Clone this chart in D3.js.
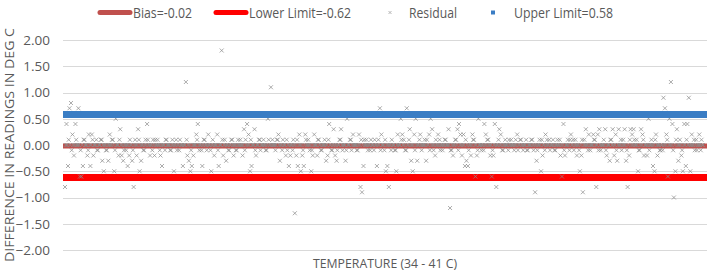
<!DOCTYPE html>
<html>
<head>
<meta charset="utf-8">
<script src="https://cdn.jsdelivr.net/npm/d3@7"></script>
<style>
  body { margin: 0; background: #fff; }
  text { font-family: "Open Sans", "Liberation Sans", sans-serif; fill: #595959; }
</style>
</head>
<body>
<div id="chart"></div>
<script>
//Dimensions
const width = 709;
const height = 271;
const margin = {top: 40, right: 2, bottom: 21, left: 63};

//Data: residuals, in tenths of a degree, in reading order
const residualTenths = [
  -8, 4, -4, 7, 8, 2, -2, 4, 0, 7, -6, -6, -4, 1, 0, -2, 2, -4, 2, -2,
  0, 1, -1, 0, 1, -3, -5, 0, -1, -3, 2, 0, 1, -5, 5, 0, -2, 3, -2, -3,
  0, -1, -4, -2, 0, -3, -8, 1, -2, 3, -5, -3, 0, -1, 1, 4, 0, -2, 0, 1,
  -2, 0, 1, 0, -2, -4, 0, -1, 1, 0, 0, -1, 1, -5, 0, -1, 0, 1, 0, -4,
  0, 12, -2, -3, -5, -4, -2, 0, 2, 4, -1, 0, -4, 1, 0, -1, 2, 0, -5, 1,
  -2, 0, 2, -4, 0, 18, -2, 1, -3, 0, -1, 0, 1, -2, 0, -1, 1, 0, 0, -2,
  3, 1, 4, 2, -5, -4, 0, 3, -2, 0, 1, -1, 0, 1, 0, -1, 5, 0, 11, 1,
  0, -1, 1, 2, -3, 0, 1, 0, -2, -1, -4, -2, 0, 1, -13, -2, -4, 2, -5, -2,
  -4, 2, 0, 1, -1, -5, -2, 2, 0, -2, 1, 0, -1, 0, 1, -3, -2, 4, 0, -1,
  3, -2, -3, 0, 1, 3, -1, 0, -3, 5, 0, 1, -1, 2, 0, 0, -1, 2, -8, -9,
  -4, 0, 1, -1, 0, 1, 0, -1, 0, -4, 1, 7, 2, 0, -1, -5, -4, -8, 0, 1,
  0, -1, -5, 2, 0, 5, 2, 1, -1, 7, 0, 3, -3, -5, 2, 5, -3, 0, 2, -1,
  0, 1, -3, 0, 2, 5, 3, -1, -2, 0, 2, 1, 0, -1, 0, 1, 0, 3, -12, -1,
  -2, 0, 1, 3, 4, 2, -2, 2, -4, -3, -4, 0, -2, 2, 1, -6, -2, 5, 0, -1,
  0, 4, 2, 1, 0, -2, -6, -2, 4, -8, 0, 3, 2, -1, 0, 1, 0, -1, 0, 1,
  0, -1, 1, 2, 0, 1, 0, -1, 0, 1, -1, 0, 0, 1, -1, -9, -3, 0, 1, -5,
  -2, 0, 2, 1, 0, -1, 0, 1, -1, 0, 1, 0, -2, -6, 4, -2, 0, 1, -1, 2,
  0, -1, 1, -2, 0, -5, -2, -9, 1, 3, 0, 2, -1, 0, 2, 1, -8, 2, 3, -1,
  0, 1, 3, -2, 0, -3, 1, 3, -2, 2, -3, 3, 0, -1, 1, 3, -3, -8, -2, 3,
  2, 3, 0, 1, -5, -1, 3, 2, -2, 0, -2, 5, 0, 1, -4, -5, 2, -2, 0, -1,
  0, 9, 7, 2, -6, 5, 12, 4, -10, -5, 3, -3, 1, -2, -5, 4, -4, 4, 9, -5,
  2, 0, -1, 1, 0, 2, -1, 0
];

//Second reading in each slot: the dense band of near-zero residuals, in tenths
const nearZeroTenths = [
  0, 0, 1, 0, -1, 0, 0, 1, 0, 0, -1, 0, 1, 0, 0, -1, 0, 0, 1, 0,
  0, -1, 0, 0, 1, 0, 0, -1, 0, 0, 0, 1, 0, -1, 0, 0, 1, 0, 0, -1,
  0, 0, 0, 1, 0, -1, 0, 0, 0, 1, 0, 0, -1, 0, 0, 1, 0, 0, -1, 0,
  1, 0, 0, -1, 0, 0, 0, 1, 0, 0, -1, 0, 0, 0, 1, 0, -1, 0, 0, 0,
  0, 1, 0, 0, -1, 0, 0, 0, 1, 0, 0, -1, 0, 1, 0, 0, 0, -1, 0, 0,
  0, 0, -1, 0, 0, 1, 0, 0, 0, -1, 0, 1, 0, 0, -1, 0, 0, 1, 0, 0,
  -1, 0, 0, 0, 1, 0, 0, -1, 0, 0, 1, 0, 0, 0, -1, 0, 1, 0, 0, 0,
  0, 0, 1, 0, 0, -1, 0, 0, 1, 0, 0, 0, -1, 0, 0, 1, 0, 0, 0, -1,
  0, 1, 0, 0, 0, -1, 0, 0, 0, 1, 0, -1, 0, 0, 0, 0, 1, 0, -1, 0,
  0, 0, -1, 0, 1, 0, 0, 0, -1, 0, 0, 1, 0, 0, 0, -1, 0, 0, 1, 0,
  1, 0, 0, 0, -1, 0, 0, 1, 0, 0, 0, -1, 0, 0, 1, 0, 0, 0, -1, 0,
  0, -1, 0, 0, 0, 1, 0, 0, -1, 0, 1, 0, 0, 0, -1, 0, 0, 1, 0, 0,
  0, 0, 1, 0, -1, 0, 0, 0, 1, 0, 0, -1, 0, 0, 1, 0, 0, 0, -1, 0,
  0, 1, 0, -1, 0, 0, 0, 0, 1, 0, -1, 0, 0, 1, 0, 0, -1, 0, 0, 0,
  -1, 0, 0, 1, 0, 0, -1, 0, 0, 0, 1, 0, 0, -1, 0, 0, 0, 1, 0, 0,
  0, 0, 0, -1, 0, 1, 0, 0, 0, -1, 0, 0, 1, 0, 0, 0, -1, 0, 0, 1,
  0, -1, 0, 0, 1, 0, 0, 0, -1, 0, 0, 1, 0, 0, -1, 0, 0, 0, 1, 0,
  1, 0, 0, 0, -1, 0, 1, 0, 0, 0, -1, 0, 0, 0, 1, 0, 0, -1, 0, 0,
  0, 0, -1, 0, 0, 1, 0, 0, 0, -1, 0, 0, 1, 0, 0, 0, -1, 0, 1, 0,
  0, 1, 0, 0, -1, 0, 0, 1, 0, 0, 0, -1, 0, 0, 0, 1, 0, 0, -1, 0,
  -1, 0, 0, 1, 0, 0, 0, -1, 0, 1, 0, 0, 0, -1, 0, 0, 1, 0, 0, 0,
  0, 1, 0, -1, 0, 0, 1, 0
];

//Reference lines
const bias = -0.02;
const lowerLimit = -0.62;
const upperLimit = 0.58;

//Axis ticks
const yTicks = [-2, -1.5, -1, -0.5, 0, 0.5, 1, 1.5, 2];

//Interleave both readings into one residual series
const residuals = [];
residualTenths.forEach((d, i) => {
    residuals.push(d / 10);
    if (i < nearZeroTenths.length) residuals.push(nearZeroTenths[i] / 10);
});

//Create the svg element
const svg = d3.select("#chart").append("svg").attr("width", width).attr("height", height);

//Scales
const xscale = d3.scaleLinear().domain([0, residuals.length - 1]).range([margin.left + 2, width - margin.right - 4]);
const yscale = d3.scaleLinear().domain([-2, 2]).range([height - margin.bottom, margin.top]);

//Gridlines
svg.append("g")
    .selectAll("line")
    .data(yTicks)
    .enter().append("line")
    .attr("x1", margin.left)
    .attr("x2", width - margin.right)
    .attr("y1", d => Math.round(yscale(d)) + 0.5)
    .attr("y2", d => Math.round(yscale(d)) + 0.5)
    .attr("stroke", "#d9d9d9")
    .attr("stroke-width", 1);

//Y axis labels
const yAxis = d3.axisLeft(yscale).tickValues(yTicks).tickFormat(d3.format(".2f")).tickSize(0).tickPadding(13);
const yg = svg.append("g").attr("transform", `translate(${margin.left}, 0)`).call(yAxis);
yg.select(".domain").remove();
yg.selectAll("text").style("font-size", "13.5px").style("fill", "#595959").style("font-family", "'Open Sans', sans-serif");

//Horizontal reference line helper
const refLine = (value, color, thickness) => {
    svg.append("line")
        .attr("x1", margin.left)
        .attr("x2", width - margin.right)
        .attr("y1", yscale(value))
        .attr("y2", yscale(value))
        .attr("stroke", color)
        .attr("stroke-width", thickness);
};

refLine(bias, "#c0504d", 5);
refLine(lowerLimit, "#ff0000", 7);

//Residual markers (small x)
const s = 2;
svg.append("g")
    .selectAll("path")
    .data(residuals)
    .enter().append("path")
    .attr("d", (d, i) => {
        const cx = xscale(i), cy = yscale(d);
        return `M${cx - s},${cy - s}L${cx + s},${cy + s}M${cx - s},${cy + s}L${cx + s},${cy - s}`;
    })
    .attr("stroke", "#8c8c8c")
    .attr("stroke-opacity", 0.8)
    .attr("stroke-width", 0.9)
    .attr("fill", "none");

refLine(upperLimit, "#3a7dc4", 7);

//Legend
const legend = svg.append("g").attr("id", "legend").style("font-size", "14.5px");
const legendText = (x, txt, len) => legend.append("text").attr("x", x).attr("y", 17.5).attr("textLength", len).attr("lengthAdjust", "spacingAndGlyphs").text(txt);
legend.append("line").attr("x1", 100).attr("x2", 130).attr("y1", 12.5).attr("y2", 12.5).attr("stroke", "#c0504d").attr("stroke-width", 5).attr("stroke-linecap", "round");
legendText(133, "Bias=" + bias.toFixed(2), 59);
legend.append("line").attr("x1", 216).attr("x2", 246).attr("y1", 12.5).attr("y2", 12.5).attr("stroke", "#ff0000").attr("stroke-width", 5).attr("stroke-linecap", "round");
legendText(249, "Lower Limit=" + lowerLimit.toFixed(2), 102);
legend.append("path").attr("d", "M388.5,11L391.5,14M388.5,14L391.5,11").attr("stroke", "#a6a6a6").attr("stroke-width", 0.8);
legendText(409, "Residual", 48);
legend.append("rect").attr("x", 491).attr("y", 10.5).attr("width", 4).attr("height", 4).attr("fill", "#3a7dc4");
legendText(514, "Upper Limit=" + upperLimit.toFixed(2), 99);

//Axis titles
svg.append("text")
    .attr("transform", `translate(14, ${yscale(0)}) rotate(-90)`)
    .attr("text-anchor", "middle")
    .attr("textLength", 234)
    .attr("lengthAdjust", "spacingAndGlyphs")
    .style("font-size", "13px")
    .text("DIFFERENCE IN READINGS IN DEG C");

svg.append("text")
    .attr("x", 385)
    .attr("y", 268)
    .attr("text-anchor", "middle")
    .attr("textLength", 144)
    .attr("lengthAdjust", "spacingAndGlyphs")
    .style("font-size", "13px")
    .text("TEMPERATURE (34 - 41 C)");
</script>
</body>
</html>
